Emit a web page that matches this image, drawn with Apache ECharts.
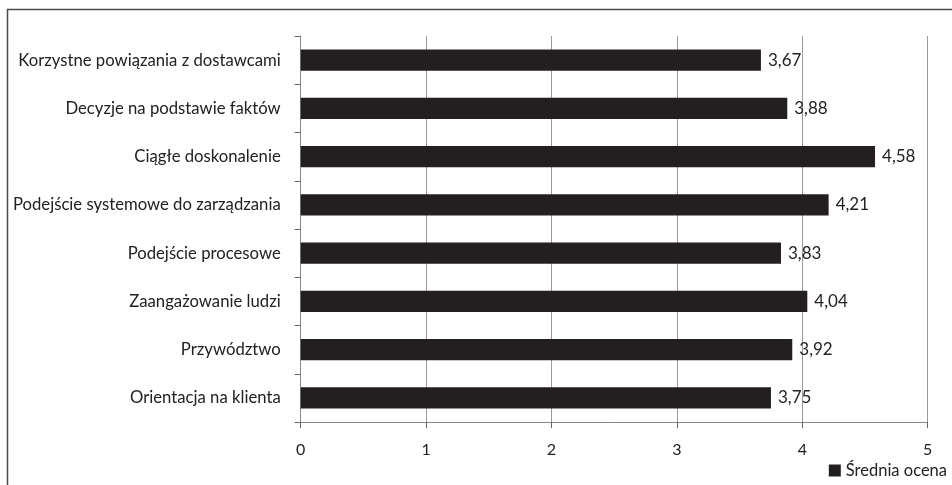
<!DOCTYPE html>
<html><head><meta charset="utf-8">
<script src="https://cdn.jsdelivr.net/npm/echarts@6/dist/echarts.min.js"></script>
<style>html,body{margin:0;padding:0;background:#fff}#c{width:952px;height:485px}</style>
</head><body><div id="c"></div>
<script>
const categories = ["Orientacja na klienta","Przywództwo","Zaangażowanie ludzi","Podejście procesowe","Podejście systemowe do zarządzania","Ciągłe doskonalenie","Decyzje na podstawie faktów","Korzystne powiązania z dostawcami"];
const values = [3.75,3.92,4.04,3.83,4.21,4.58,3.88,3.67];
const seriesName = "Średnia ocena";
const xTicks = [0,1,2,3,4,5];

const FONT = "Lato";
const chart = echarts.init(document.getElementById('c'), null, {renderer:'canvas'});
chart.setOption({
  animation:false,
  backgroundColor:'#fff',
  graphic:[{type:'rect',shape:{x:7.5,y:9.5,width:1000,height:1000},style:{fill:'none',stroke:'#4a4a4a',lineWidth:1.5},silent:true}],
  grid:{left:300.7,right:952-927.7,top:36,bottom:485-422,containLabel:false},
  legend:{data:[seriesName],right:0,bottom:1,itemWidth:12,itemHeight:12,itemGap:4,icon:'rect',
    textStyle:{fontFamily:FONT,fontSize:16.5,color:'#222'}},
  xAxis:{type:'value',min:xTicks[0],max:xTicks[xTicks.length-1],interval:1,
    axisLine:{show:true,lineStyle:{color:'#888',width:1}},
    axisTick:{show:true,inside:false,length:6,lineStyle:{color:'#666'}},
    axisLabel:{margin:20,fontFamily:FONT,fontSize:16,color:'#222'},
    splitLine:{show:true,lineStyle:{color:'#999',width:1}}},
  yAxis:{type:'category',data:categories,
    axisLine:{show:true,lineStyle:{color:'#888',width:1}},
    axisTick:{show:true,inside:false,length:6,alignWithLabel:false,lineStyle:{color:'#666'}},
    axisLabel:{margin:20,fontFamily:FONT,fontSize:16.7,color:'#222'}},
  series:[{name:seriesName,type:'bar',data:values,barWidth:'44%',
    itemStyle:{color:'#231f20'},
    label:{show:true,position:'right',distance:7,fontFamily:FONT,fontSize:17,color:'#222',
      formatter:p=>p.value.toFixed(2).replace('.',',')}}]
});
</script></body></html>
